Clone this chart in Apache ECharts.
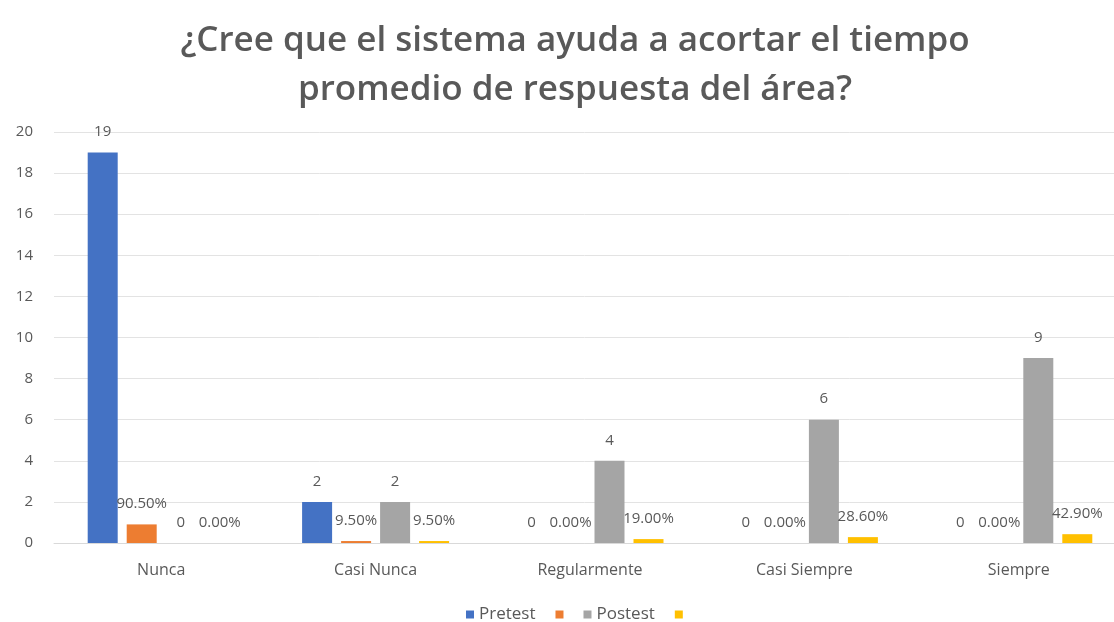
<!DOCTYPE html>
<html>
<head>
<meta charset="utf-8">
<script src="https://cdn.jsdelivr.net/npm/echarts@6/dist/echarts.min.js"></script>
<style>
  html, body { margin: 0; padding: 0; background: #ffffff; }
  #chart { width: 1114px; height: 622px; }
</style>
</head>
<body>
<div id="chart"></div>
<script>
// Survey answers: counts and shares before and after the system
const categories = ['Nunca', 'Casi Nunca', 'Regularmente', 'Casi Siempre', 'Siempre'];
const pretest = [19, 2, 0, 0, 0];
const pretestShare = [0.905, 0.095, 0, 0, 0];
const postest = [0, 2, 4, 6, 9];
const postestShare = [0, 0.095, 0.19, 0.286, 0.429];
const yTicks = { min: 0, max: 20, interval: 2 };

const textColor = '#595959';
const fontFamily = '"Open Sans", "Liberation Sans", sans-serif';

function countLabel() {
  return { show: true, position: 'top', distance: 13, color: textColor, fontSize: 15, fontFamily,
           formatter: p => String(p.value) };
}
function shareLabel() {
  return { show: true, position: 'top', distance: 13, color: textColor, fontSize: 15, fontFamily,
           formatter: p => (p.value * 100).toFixed(2) + '%' };
}

const chart = echarts.init(document.getElementById('chart'), null, { renderer: 'canvas' });
chart.setOption({
  backgroundColor: '#ffffff',
  animation: false,
  title: {
    text: '¿Cree que el sistema ayuda a acortar el tiempo\npromedio de respuesta del área?',
    left: 575,
    top: 17,
    padding: 0,
    textAlign: 'center',
    textStyle: { color: textColor, fontSize: 35, fontWeight: 600, fontFamily, lineHeight: 49 }
  },
  legend: {
    left: 461,
    top: 601,
    itemWidth: 8,
    itemHeight: 8,
    itemGap: 20,
    icon: 'rect',
    textStyle: { color: textColor, fontSize: 17, fontFamily },
    formatter: name => (name.endsWith('%') ? '' : name),
    data: ['Pretest', 'Pretest %', 'Postest', 'Postest %']
  },
  grid: { left: 54, right: -12, top: 132, bottom: 79, outerBoundsMode: 'none' },
  xAxis: {
    type: 'category',
    data: categories,
    axisTick: { show: false },
    axisLine: { lineStyle: { color: '#D9D9D9' } },
    axisLabel: { color: textColor, fontSize: 16, fontFamily, margin: 19 }
  },
  yAxis: {
    type: 'value',
    min: yTicks.min,
    max: yTicks.max,
    interval: yTicks.interval,
    axisLine: { show: false },
    axisTick: { show: false },
    splitLine: { lineStyle: { color: '#E3E3E3' } },
    axisLabel: { color: textColor, fontSize: 15, fontFamily, margin: 21 }
  },
  series: [
    { name: 'Pretest', type: 'bar', data: pretest, barWidth: 30, barGap: '30%',
      itemStyle: { color: '#4472C4' }, label: countLabel() },
    { name: 'Pretest %', type: 'bar', data: pretestShare, barWidth: 30, barGap: '30%',
      itemStyle: { color: '#ED7D31' }, label: shareLabel() },
    { name: 'Postest', type: 'bar', data: postest, barWidth: 30, barGap: '30%',
      itemStyle: { color: '#A5A5A5' }, label: countLabel() },
    { name: 'Postest %', type: 'bar', data: postestShare, barWidth: 30, barGap: '30%',
      itemStyle: { color: '#FFC000' }, label: shareLabel() }
  ]
});
</script>
</body>
</html>
